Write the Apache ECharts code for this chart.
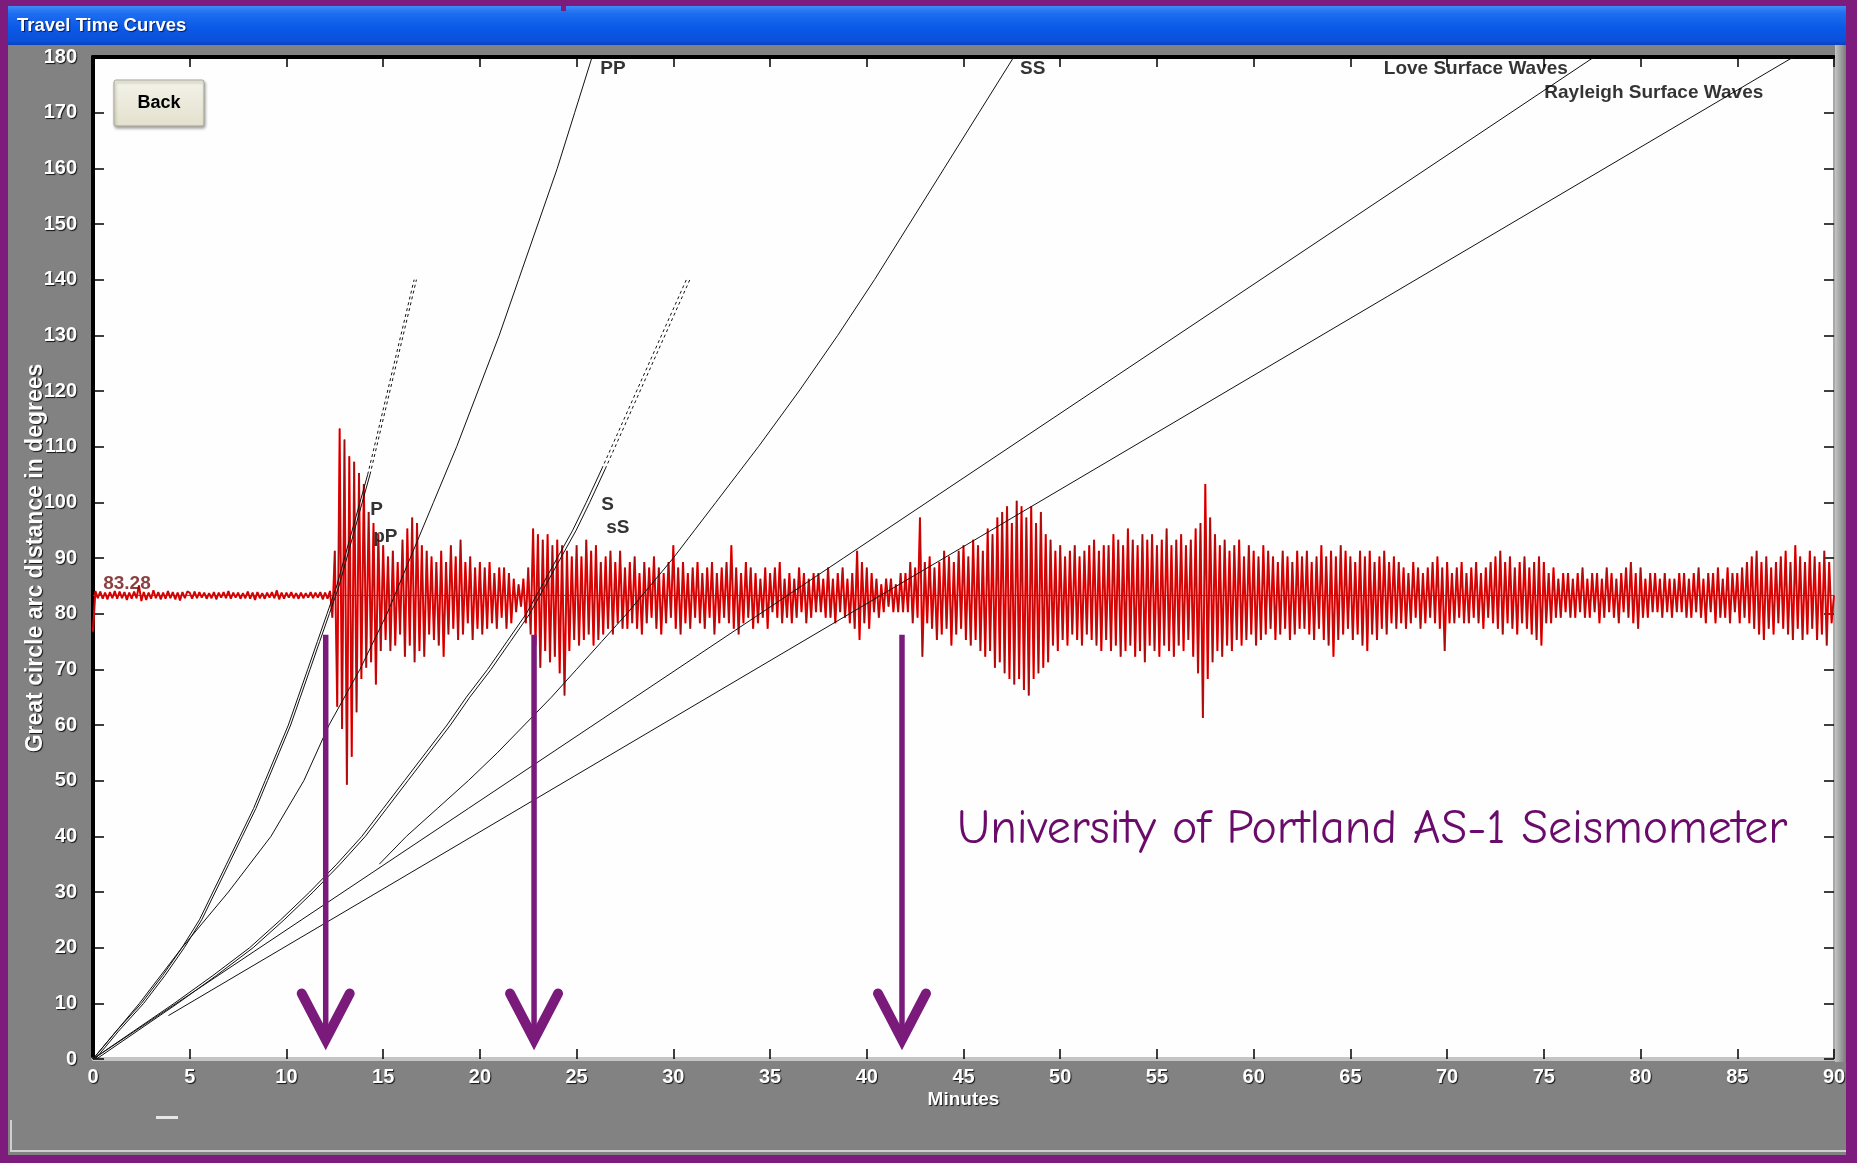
<!DOCTYPE html>
<html>
<head>
<meta charset="utf-8">
<title>Travel Time Curves</title>
<script src="https://cdn.jsdelivr.net/npm/echarts@6.0.0/dist/echarts.min.js"></script>
<style>
  html, body { margin: 0; padding: 0; background: #828282; overflow: hidden; }
  #chart { width: 1857px; height: 1163px; }
</style>
</head>
<body>
<div id="chart"></div>
<script>
// ---------- travel-time curves, points are [minutes, degrees] ----------
const pCurve = [[0,0],[1.2,5],[2.5,10],[3.6,15],[4.6,20],[5.5,25],[6.2,30],[6.9,35],[7.6,40],[8.3,45],[8.9,50],[9.5,55],[10.1,60],[10.6,65],[11.1,70],[11.6,75],[12.1,80],[12.6,85],[13.0,90],[13.4,95],[13.8,100],[14.2,105]];
const pPCurve = [[0.12,0],[1.32,5],[2.62,10],[3.72,15],[4.72,20],[5.62,25],[6.32,30],[7.02,35],[7.72,40],[8.42,45],[9.02,50],[9.62,55],[10.22,60],[10.72,65],[11.22,70],[11.72,75],[12.22,80],[12.72,85],[13.12,90],[13.52,95],[13.92,100],[14.32,105]];
const pDiff = [[14.2,105],[16.6,140]];
const pPDiff = [[14.32,105],[16.72,140]];
const ppCurve = [[0,0],[2.4,10],[4.6,20],[7.0,30],[9.2,40],[10.9,50],[12.2,60],[13.8,70],[15.2,80],[16.4,90],[17.6,100],[18.8,110],[19.9,120],[21.0,130],[22.0,140],[23.0,150],[24.0,160],[24.9,170],[25.8,180]];
const sCurve = [[0,0],[2.1,5],[4.2,10],[6.2,15],[8.1,20],[9.7,25],[11.2,30],[12.6,35],[13.9,40],[15.0,45],[16.1,50],[17.2,55],[18.3,60],[19.3,65],[20.4,70],[21.4,75],[22.4,80],[23.2,85],[24.0,90],[24.8,95],[25.5,100],[26.3,106]];
const sSCurve = [[0.18,0],[2.28,5],[4.38,10],[6.38,15],[8.28,20],[9.88,25],[11.38,30],[12.78,35],[14.08,40],[15.18,45],[16.28,50],[17.38,55],[18.48,60],[19.48,65],[20.58,70],[21.58,75],[22.58,80],[23.38,85],[24.18,90],[24.98,95],[25.68,100],[26.48,106]];
const sDiff = [[26.3,106],[30.7,140.2]];
const sSDiff = [[26.48,106],[30.88,140.2]];
const ssCurve = [[14.8,35],[16.2,40],[17.8,45],[19.4,50],[20.9,55],[22.3,60],[23.7,65],[25.0,70],[26.3,75],[27.6,80],[28.8,85],[30.0,90],[31.1,95],[32.2,100],[33.3,105],[34.4,110],[36.5,120],[38.5,130],[40.4,140],[42.2,150],[44.0,160],[45.8,170],[47.6,180]];
const loveCurve = [[0,0],[77.6,180]];
const rayleighCurve = [[3.9,7.8],[87.9,180]];

// phase names: [minutes, degrees, text]
const phaseLabels = [
  [26.2, 177.8, 'PP'],
  [47.9, 177.8, 'SS'],
  [66.7, 177.8, 'Love Surface Waves'],
  [75.0, 173.6, 'Rayleigh Surface Waves'],
  [14.3, 98.7, 'P'],
  [14.46, 93.9, 'pP'],
  [26.25, 99.6, 'S'],
  [26.5, 95.4, 'sS']
];

// ---------- seismogram at the station distance ----------
const stationDistance = 83.28;
const traceStep = 0.125; // minutes between samples
// each row: [start minute, offsets in degrees from the station line]
const traceRows = [
  [0,  [-6.5,0.8,-0.5,0.7,-0.6,0.5,-0.7,0.6,-0.5,0.8, -0.6,0.7,-0.5,0.6,-0.8,0.5,-0.6,0.7,-0.5,1.8, -1.0,0.6,-0.8,0.5,-0.6,0.9,-0.5,0.6,-0.7,0.5, -0.6,0.8,-0.5,0.6,-0.7,0.5,-0.9,0.6,-0.5,0.7]],
  [5,  [0.5,-0.6,0.7,-0.5,0.6,-0.4,0.5,-0.6,0.4,-0.5, 0.6,-0.7,0.5,-0.4,0.6,-0.5,0.8,-0.6,0.5,-0.4, 0.5,-0.6,0.4,-0.5,0.7,-0.6,0.5,-0.8,0.6,-0.5, 0.4,-0.6,0.5,-0.4,0.6,-0.5,0.9,-0.7,0.5,-0.6]],
  [10, [0.5,-0.4,0.6,-0.5,0.4,-0.6,0.5,-0.5,0.4,-0.4, 0.6,-0.5,0.5,-0.4,0.6,-0.7,0.5,-0.6,0.8,-4, 8,-20,30,-24,28,-34,25,-29,24,-21, 22,-15,20,-13,15,-12,13,-16,11,-10]],
  [15, [9,-8,7,-10,8,-9,6,-7,10,-11, 12,-9,14,-12,13,-10,9,-11,8,-7, 7,-8,6,-9,8,-11,6,-7,9,-6, 7,-8,10,-7,6,-5,7,-8,5,-6]],
  [20, [6,-7,5,-6,6,-5,4,-6,5,-4, 5,-6,4,-5,3,-3,2,-2,3,-5, 5,-7,12,-9,11,-13,10,-10,11,-12, 9,-11,10,-14,9,-18,8,-10,7,-8]],
  [25, [9,-9,7,-8,10,-7,8,-9,9,-8, 6,-7,7,-6,8,-7,6,-5,8,-6, 5,-6,6,-5,7,-6,4,-7,6,-5, 5,-4,7,-6,5,-7,4,-5,6,-4]],
  [30, [9,-6,5,-7,6,-5,4,-6,5,-4, 6,-5,4,-6,5,-4,6,-7,4,-5, 5,-4,6,-5,9,-6,5,-7,4,-5, 6,-4,5,-6,4,-5,3,-4,5,-6]],
  [35, [4,-3,5,-4,6,-5,3,-4,4,-5, 3,-4,5,-3,4,-5,3,-4,4,-3, 4,-3,3,-4,5,-4,3,-5,4,-3, 5,-4,3,-5,4,-6,8,-8,6,-5]],
  [40, [5,-6,4,-3,3,-4,2,-3,3,-2, 3,-3,2,-3,4,-3,4,-3,6,-5, 5,-4,14,-11,6,-5,7,-6,5,-8, 6,-7,8,-6,7,-9,6,-7,8,-6]],
  [45, [9,-8,7,-9,10,-8,9,-10,8,-11, 12,-10,11,-13,14,-12,15,-14,16,-15, 13,-16,17,-15,16,-17,14,-18,16,-15, 13,-14,15,-13,11,-12,10,-9,8,-10]],
  [50, [9,-8,7,-9,8,-7,9,-8,7,-9, 8,-7,9,-8,10,-9,8,-10,9,-8, 9,-10,11,-9,10,-11,9,-10,12,-9, 10,-11,9,-10,11,-12,10,-9,11,-10]],
  [55, [9,-11,10,-9,12,-10,9,-11,10,-9, 11,-10,9,-8,10,-11,12,-14,13,-22, 20,-15,14,-12,11,-10,9,-11,10,-9, 8,-10,9,-8,10,-9,7,-8,9,-7]],
  [60, [8,-9,7,-8,9,-7,8,-6,7,-8, 6,-7,8,-6,7,-8,6,-7,8,-6, 7,-6,8,-7,6,-8,7,-6,9,-8, 7,-9,8,-11,7,-8,9,-7,8,-6]],
  [65, [7,-8,6,-7,8,-9,7,-10,8,-7, 6,-8,7,-6,8,-7,6,-5,7,-6, 6,-5,5,-6,4,-5,6,-4,5,-6, 4,-5,5,-4,6,-5,7,-6,5,-10]],
  [70, [6,-5,4,-5,5,-4,6,-5,4,-5, 5,-4,6,-5,4,-6,5,-4,6,-5, 7,-6,8,-7,6,-5,7,-6,5,-7, 6,-5,7,-6,5,-7,6,-8,7,-9]],
  [75, [6,-5,4,-5,5,-4,3,-4,4,-3, 4,-4,3,-4,4,-3,5,-4,3,-4, 4,-3,4,-5,3,-4,5,-3,4,-4, 3,-5,4,-3,5,-4,6,-5,4,-6]],
  [80, [5,-4,3,-4,4,-3,4,-3,3,-4, 4,-3,3,-4,3,-3,4,-3,4,-4, 3,-4,4,-3,5,-4,3,-5,4,-3, 4,-5,5,-4,3,-4,5,-5,4,-3]],
  [85, [4,-5,5,-4,6,-5,7,-6,8,-7, 6,-8,7,-6,5,-7,6,-5,7,-6, 8,-7,6,-8,9,-6,7,-8,6,-7, 8,-6,7,-8,6,-7,8,-9,6,-5]],
  [90, [0]]
];

// arrival markers: [minutes, top of shaft (deg), arrow tip (deg)]
const arrivalArrows = [[12.03, 76.2, 3.5], [22.8, 76.2, 3.5], [41.82, 76.2, 3.5]];

// ---------- build series data ----------
const traceData = [];
traceRows.forEach(([start, vals]) => {
  vals.forEach((v, j) => traceData.push([start + j * traceStep, stationDistance + v]));
});
const stationLine = [[0, stationDistance], [90, stationDistance]];

const purple = '#7d1c7d';
const arrowPurple = '#7a1a7b';
const plainFont = '"Liberation Sans",Arial,sans-serif';
const whiteText = {
  color: '#ffffff', fontFamily: plainFont, fontWeight: 'bold', fontSize: 20,
  textShadowColor: 'rgba(0,0,0,0.85)', textShadowBlur: 1, textShadowOffsetX: 1, textShadowOffsetY: 1
};

function curve(data, dashed) {
  return {
    type: 'line', data: data, symbol: 'none', silent: true, z: 5,
    xAxisIndex: 0, yAxisIndex: 0, animation: false,
    lineStyle: { color: '#111111', width: 1, type: dashed ? [3, 3] : 'solid' }
  };
}

const chart = echarts.init(document.getElementById('chart'), null, { renderer: 'canvas' });

chart.setOption({
  animation: false,
  backgroundColor: '#828282',
  grid: { left: 93, right: 23, top: 57, bottom: 104, show: true, backgroundColor: '#fefefe', borderWidth: 0 },
  xAxis: [
    {
      type: 'value', position: 'bottom', min: 0, max: 90, interval: 5,
      name: 'Minutes', nameLocation: 'middle', nameGap: 31, nameMoveOverlap: false,
      nameTextStyle: Object.assign({}, whiteText, { fontSize: 19 }),
      axisLine: { show: true, onZero: false, lineStyle: { color: '#c4c4c4', width: 4 } },
      axisTick: { show: true, inside: true, length: 10, lineStyle: { color: '#000', width: 1.5 } },
      axisLabel: Object.assign({ margin: 8 }, whiteText),
      splitLine: { show: false }
    },
    {
      type: 'value', position: 'top', min: 0, max: 90, interval: 5,
      axisLine: { show: true, onZero: false, lineStyle: { color: '#000', width: 4 } },
      axisTick: { show: true, inside: true, length: 10, lineStyle: { color: '#000', width: 1.5 } },
      axisLabel: { show: false },
      splitLine: { show: false }
    }
  ],
  yAxis: [
    {
      type: 'value', position: 'left', min: 0, max: 180, interval: 10,
      name: 'Great circle arc distance in degrees', nameLocation: 'middle', nameGap: 46, nameMoveOverlap: false,
      nameTextStyle: Object.assign({}, whiteText, { fontSize: 23 }),
      axisLine: { show: true, onZero: false, lineStyle: { color: '#000', width: 4 } },
      axisTick: { show: true, inside: true, length: 11, lineStyle: { color: '#000', width: 1.5 } },
      axisLabel: Object.assign({ margin: 16 }, whiteText),
      splitLine: { show: false }
    },
    {
      type: 'value', position: 'right', min: 0, max: 180, interval: 10,
      axisLine: { show: true, onZero: false, lineStyle: { color: '#a8a8a8', width: 2 } },
      axisTick: { show: true, inside: true, length: 10, lineStyle: { color: '#000', width: 1.5 } },
      axisLabel: { show: false },
      splitLine: { show: false }
    }
  ],
  series: [
    {
      type: 'line', data: stationLine, symbol: 'none', silent: true, z: 2,
      lineStyle: { color: '#8a3a3a', width: 1 }
    },
    {
      type: 'line', data: traceData, symbol: 'none', silent: true, z: 3,
      lineStyle: { color: '#ff0000', width: 2 }
    },
    {
      type: 'line', data: traceData, symbol: 'none', silent: true, z: 4,
      lineStyle: { color: 'rgba(120,20,20,0.7)', width: 0.8 }
    },
    curve(pCurve), curve(pPCurve), curve(pDiff, true), curve(pPDiff, true),
    curve(ppCurve),
    curve(sCurve), curve(sSCurve), curve(sDiff, true), curve(sSDiff, true),
    curve(ssCurve),
    curve(loveCurve), curve(rayleighCurve),
    {
      type: 'custom', silent: true, z: 10,
      data: arrivalArrows,
      encode: { x: 0, y: [1, 2] },
      renderItem: function (params, api) {
        const top = api.coord([api.value(0), api.value(1)]);
        const tip = api.coord([api.value(0), api.value(2)]);
        return {
          type: 'group',
          children: [
            { type: 'line', shape: { x1: top[0], y1: top[1], x2: tip[0], y2: tip[1] - 6 },
              style: { stroke: arrowPurple, lineWidth: 5.5 } },
            { type: 'polyline', shape: { points: [[tip[0] - 24, tip[1] - 46], [tip[0], tip[1]], [tip[0] + 24, tip[1] - 46]] },
              style: { stroke: arrowPurple, lineWidth: 10, fill: null, lineCap: 'round', lineJoin: 'miter' } }
          ]
        };
      }
    },
    {
      type: 'scatter', silent: true, z: 11, symbolSize: 1,
      itemStyle: { color: 'rgba(0,0,0,0)' },
      data: phaseLabels.map(p => ({ name: p[2], value: [p[0], p[1]] })),
      label: {
        show: true, position: 'right', distance: 0, formatter: p => p.name,
        color: '#000', fontFamily: plainFont, fontWeight: 'bold', fontSize: 19, verticalAlign: 'middle'
      }
    },
    {
      type: 'scatter', silent: true, z: 11, symbolSize: 1,
      itemStyle: { color: 'rgba(0,0,0,0)' },
      data: [{ name: stationDistance.toFixed(2), value: [0.5, 85.4] }],
      label: {
        show: true, position: 'right', distance: 0, formatter: p => p.name,
        color: '#6e1010', fontFamily: plainFont, fontWeight: 'bold', fontSize: 19, verticalAlign: 'middle'
      }
    }
  ],
  graphic: [
    // window frame
    { type: 'rect', z: 20, shape: { x: 0, y: 0, width: 1857, height: 6 }, style: { fill: purple } },
    { type: 'rect', z: 20, shape: { x: 0, y: 0, width: 8, height: 1163 }, style: { fill: purple } },
    { type: 'rect', z: 20, shape: { x: 1846, y: 0, width: 11, height: 1163 }, style: { fill: purple } },
    { type: 'rect', z: 20, shape: { x: 0, y: 1155, width: 1857, height: 8 }, style: { fill: purple } },
    { type: 'rect', z: 21, shape: { x: 561, y: 0, width: 5, height: 11 }, style: { fill: purple } },
    {
      type: 'rect', z: 19, shape: { x: 8, y: 6, width: 1838, height: 39 },
      style: {
        fill: new echarts.graphic.LinearGradient(0, 0, 0, 1, [
          { offset: 0, color: '#3d8cf8' }, { offset: 0.18, color: '#1f6ef0' },
          { offset: 0.55, color: '#0a5ae8' }, { offset: 0.9, color: '#0a50da' }, { offset: 1, color: '#0842bc' }
        ])
      }
    },
    {
      type: 'text', z: 22, x: 17, y: 26,
      style: {
        text: 'Travel Time Curves', fill: '#ffffff', fontFamily: plainFont, fontWeight: 'bold', fontSize: 18.5,
        verticalAlign: 'middle', align: 'left',
        textShadowColor: 'rgba(0,0,40,0.7)', textShadowOffsetX: 1, textShadowOffsetY: 1, textShadowBlur: 1
      }
    },
    // right edge of the plot panel
    {
      type: 'rect', z: 1, shape: { x: 1835, y: 45, width: 11, height: 1017 },
      style: { fill: new echarts.graphic.LinearGradient(0, 0, 1, 0, [{ offset: 0, color: '#c4c4c4' }, { offset: 1, color: '#7a7a7a' }]) }
    },
    // lower status strip
    { type: 'rect', z: 19, shape: { x: 10, y: 1150, width: 1836, height: 2 }, style: { fill: '#cfcfcf' } },
    { type: 'rect', z: 19, shape: { x: 10, y: 1120, width: 2, height: 32 }, style: { fill: '#cfcfcf' } },
    { type: 'rect', z: 19, shape: { x: 156, y: 1116, width: 22, height: 3 }, style: { fill: '#e6e6e6' } },
    // Back button
    {
      type: 'rect', z: 30, shape: { x: 114, y: 80, width: 90, height: 46, r: 2 },
      style: {
        fill: new echarts.graphic.LinearGradient(0, 0, 0, 1, [{ offset: 0, color: '#f4f3ea' }, { offset: 1, color: '#e3e0cc' }]),
        stroke: '#a9a793', lineWidth: 1,
        shadowBlur: 3, shadowColor: 'rgba(0,0,0,0.35)', shadowOffsetX: 1, shadowOffsetY: 2
      }
    },
    {
      type: 'text', z: 31, x: 159, y: 103,
      style: { text: 'Back', fill: '#000', fontFamily: plainFont, fontWeight: 'bold', fontSize: 18, align: 'center', verticalAlign: 'middle' }
    },
    // station caption
    {
      type: 'text', z: 30, x: 957, y: 829,
      style: {
        text: 'University of Portland AS-1 Seismometer', fill: '#6a0b6b',
        fontFamily: '"Comic Sans MS","Comic Neue","Noto Sans",sans-serif', fontSize: 48,
        align: 'left', verticalAlign: 'middle'
      }
    }
  ]
});
</script>
</body>
</html>
